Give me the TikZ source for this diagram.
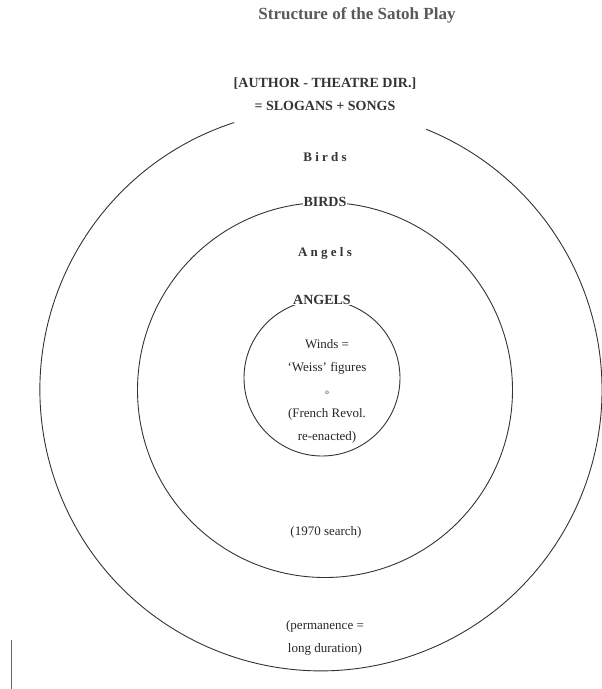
\documentclass[tikz,border=0pt]{standalone}
\usepackage{fontspec}
\setmainfont{Liberation Serif}
\usetikzlibrary{positioning}

\begin{document}
\begin{tikzpicture}[
    x=1pt, y=1pt,
    node distance=4pt,
    ring/.style={circle, draw=black!80, line width=0.9pt, inner sep=0pt},
    arc_line/.style={draw=black!80, line width=0.9pt},
    caps_text/.style={font=\fontsize{14}{16}\selectfont\bfseries, text=black!80, inner sep=1pt},
    label_text/.style={font=\fontsize{13}{23}\selectfont, text=black!85, align=center},
    spaced_text/.style={font=\fontsize{13}{15}\selectfont\bfseries\addfontfeatures{LetterSpace=25}, text=black!80}
]
\useasboundingbox (0,0) rectangle (602,-689);

% Rings
\node (outer) [circle, inner sep=0pt, minimum size=562pt] at (321,-390) {};
\node (middle) [ring, minimum size=375pt] at (325,-390) {};
\node (inner) [ring, minimum size=156pt] at (322,-378) {};
\draw [arc_line] (outer.108) arc[start angle=108, end angle=428, radius=281];

% Nodes
\node (title) [font=\fontsize{17}{19}\selectfont\bfseries, text=black!65] at (357,-15) {Structure of the Satoh Play};
\node (author) [caps_text] at (325,-84) {[AUTHOR - THEATRE DIR.]};
\node (slogans) [caps_text, below=9pt of author] {= SLOGANS + SONGS};

\node (birds) [spaced_text] at (325,-157) {Birds};
\node (birds_caps) [caps_text, fill=white] at (middle.north) {BIRDS};
\node (angels) [spaced_text] at (325,-253) {Angels};
\node (angels_caps) [caps_text, fill=white] at (inner.north) {ANGELS};

\node (winds) [label_text] at (327,-391) {Winds =\\`Weiss' figures\\{\fontsize{7}{8}\selectfont o}\\(French Revol.\\re-enacted)};
\node (search) [label_text] at (326,-532) {(1970 search)};
\node (permanence) [label_text] at (325,-638) {(permanence =\\long duration)};

% Margin
\draw [black!60, line width=0.8pt] (11,-640) -- (11,-689);

\end{tikzpicture}
\end{document}
